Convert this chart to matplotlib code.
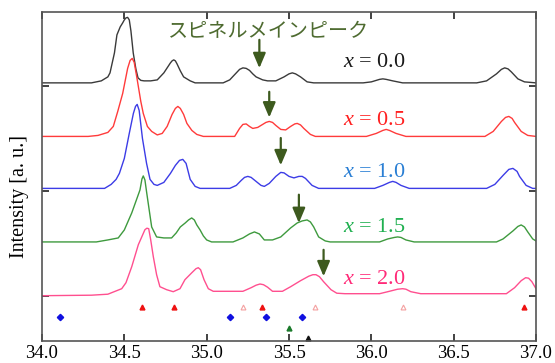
import matplotlib
matplotlib.use("Agg")
import matplotlib.pyplot as plt
import numpy as np

# ---------------- data (2theta in degrees, intensity in a.u.) ----------------
tt_x00 = [34.00, 34.30, 34.36, 34.40, 34.413, 34.44, 34.455, 34.475, 34.49, 34.50, 34.51, 34.52, 34.53, 34.54,
          34.554, 34.57, 34.583, 34.60, 34.62,
          34.66, 34.70, 34.74, 34.76, 34.78, 34.79, 34.80, 34.81, 34.82, 34.84, 34.86, 34.90, 34.93, 35.10, 35.14,
          35.18, 35.20, 35.22, 35.24, 35.26, 35.28, 35.30,
          35.34, 35.37, 35.42, 35.47, 35.50, 35.52, 35.54, 35.57, 35.61, 35.65, 35.95, 36.00, 36.05, 36.07, 36.09,
          36.13, 36.19, 36.64, 36.70,
          36.76, 36.79, 36.81, 36.83, 36.85, 36.89, 36.93, 37.00]
I_x00 = [0, 0, 2, 6, 10, 30, 48, 56, 60, 63, 65, 65.5, 63, 52,
         30, 14, 5, 2.5, 2,
         2, 3, 10, 15, 20, 22, 23, 22, 19, 12, 6, 2, 0, 0, 3,
         10, 13.5, 15, 14.5, 12.5, 9, 6,
         3, 2, 2, 6, 9, 10, 9, 6, 1, 0, 0, 1, 3.5, 4, 3.5,
         2, 0, 0, 2,
         9, 13.5, 15, 14, 11, 4, 1, 0]

tt_x05 = [34.00, 34.28, 34.34, 34.40, 34.433, 34.46, 34.49, 34.52, 34.535, 34.548, 34.56, 34.579, 34.60, 34.615,
          34.64, 34.666, 34.70, 34.73, 34.76, 34.79, 34.81, 34.825, 34.84, 34.86, 34.88, 34.91, 34.94, 34.98,
          35.17, 35.20, 35.22, 35.24, 35.26, 35.28, 35.31, 35.34, 35.36, 35.38, 35.40, 35.42, 35.45, 35.48, 35.51,
          35.535, 35.55, 35.57, 35.59, 35.63, 35.66, 35.97, 36.03, 36.07, 36.09, 36.11, 36.15,
          36.21, 36.69, 36.74, 36.79, 36.815, 36.835, 36.855, 36.87, 36.91, 36.95, 37.00]
I_x05 = [0, 0, 1, 4, 10, 25, 43, 68, 76, 78, 74, 56, 35, 23,
         10, 5, 1.5, 3, 10, 22, 28, 30, 28, 22, 13, 6, 2, 0,
         0, 8, 12, 12.5, 10, 8, 9, 12, 14, 15, 14, 11, 7, 6.5, 10,
         12.5, 13, 11.5, 8, 2, 0, 0, 3, 6, 7, 6, 3,
         0, 0, 5, 15, 19, 20, 18, 14, 5, 1, 0]

tt_x10 = [34.00, 34.38, 34.42, 34.45, 34.47, 34.50, 34.53, 34.555, 34.568, 34.578, 34.59, 34.61, 34.635, 34.656,
          34.68, 34.70, 34.74, 34.78, 34.81, 34.835, 34.855, 34.875, 34.90, 34.93, 34.96, 35.14, 35.18, 35.21,
          35.23, 35.25, 35.27, 35.30, 35.33, 35.35, 35.38, 35.42, 35.45, 35.47, 35.50, 35.53, 35.56, 35.58,
          35.60, 35.64, 35.68, 36.02, 36.07, 36.11, 36.13, 36.15, 36.18, 36.23, 36.70, 36.75, 36.80, 36.835,
          36.86, 36.885, 36.90, 36.94, 36.98, 37.00]
I_x10 = [0, 0, 4, 9, 15, 30, 55, 75, 82, 84, 78, 50, 25, 9,
         4, 3, 6, 15, 23, 28, 29, 25, 9, 2, 0, 0, 3, 8,
         11, 12, 11, 7, 3, 2, 5, 12, 16, 15.5, 12, 10.5, 12, 12,
         10, 3, 0, 0, 3, 6, 7, 6, 3, 0, 0, 4, 13, 19,
         20, 17, 12, 3, 0, 0]

tt_x15 = [34.00, 34.33, 34.40, 34.463, 34.50, 34.545, 34.595, 34.607, 34.615, 34.625, 34.636, 34.666, 34.696,
          34.74, 34.787, 34.815, 34.84, 34.87, 34.89, 34.909, 34.925, 34.94, 34.96, 34.98, 35.00, 35.03, 35.16,
          35.22, 35.26, 35.29, 35.32, 35.35, 35.40, 35.45, 35.51, 35.55, 35.58, 35.61, 35.63, 35.65, 35.68,
          35.72, 35.75, 36.05, 36.10, 36.14, 36.16, 36.18, 36.21, 36.26, 36.76, 36.80, 36.86, 36.89, 36.91,
          36.93, 36.95, 36.98, 37.00]
I_x15 = [0, 0, 2, 4, 12, 29, 52, 63, 66, 62, 49, 15, 5,
         4, 4, 9, 15, 19, 22, 24, 22, 17, 12, 6, 2, 0, 0,
         4, 8, 10, 8, 2, 2, 5, 14, 19, 21, 22, 20, 15, 5,
         1, 0, 0, 3, 4.5, 5, 4.5, 2, 0, 0, 3, 11, 15.5, 17,
         15, 10, 3, 1]

tt_x20 = [34.00, 34.30, 34.40, 34.484, 34.51, 34.545, 34.585, 34.625, 34.637, 34.648, 34.66, 34.676, 34.696,
          34.716, 34.757, 34.797, 34.838, 34.868, 34.91, 34.935, 34.949, 34.963, 34.984, 35.01, 35.04, 35.22,
          35.27, 35.30, 35.324, 35.345, 35.37, 35.40, 35.46, 35.51, 35.57, 35.62, 35.645, 35.664, 35.685, 35.71,
          35.755, 35.79, 35.84, 36.05, 36.10, 36.16, 36.19, 36.21, 36.24, 36.30, 36.82, 36.87, 36.91, 36.937,
          36.955, 36.975, 37.00]
I_x20 = [-1, -0.5, 0.5, 6, 12, 28, 50, 65, 66.5, 66, 55, 38, 20,
         8, 5, 3, 6, 15, 22, 26, 27, 25, 15, 6, 3.4, 3.4,
         7, 9.5, 10.7, 10, 7.5, 3.4, 3.4, 8, 14, 18.5, 20, 20, 18, 13,
         5, 1.5, 1, 1, 3, 5.5, 6, 5.5, 3, 1, 1, 7, 14, 17,
         16.5, 13, 6]

series_tt = [tt_x00, tt_x05, tt_x10, tt_x15, tt_x20]
series_I = [I_x00, I_x05, I_x10, I_x15, I_x20]
labels = ["0.0", "0.5", "1.0", "1.5", "2.0"]
offsets = [4.06, 3.04, 2.05, 1.03, 0.025]
line_colors = ["#3a3a3a", "#ff3b3b", "#3c3ce6", "#3e9a3e", "#ff4f8f"]
text_colors = ["#1a1a1a", "#ff2020", "#2a7fd4", "#20b050", "#ff2a78"]
label_y = [4.44, 3.35, 2.36, 1.30, 0.305]

# spinel main peak arrows: 2theta, start, tip
arrow_tt = [35.32, 35.38, 35.45, 35.56, 35.71]
arrow_top = [4.88, 3.89, 3.01, 1.93, 0.88]
arrow_tip = [4.34, 3.40, 2.49, 1.39, 0.375]

# reference markers
red_tri = [34.605, 34.80, 35.334, 36.93]
pink_open_tri = [35.22, 35.66, 36.195]
blue_dia = [34.11, 35.14, 35.36, 35.58]
green_tri = [35.50]
black_tri = [35.613]

int_scale = 52.5  # a.u. per offset step

# ---------------- plot ----------------
plt.rcParams['font.family'] = ['Liberation Serif', 'DejaVu Serif']
plt.rcParams['mathtext.fontset'] = 'custom'
plt.rcParams['mathtext.it'] = 'Liberation Serif:italic'
plt.rcParams['mathtext.rm'] = 'Liberation Serif'

fig = plt.figure(figsize=(5.55, 3.63), dpi=100)
ax = fig.add_axes([42/555, 1 - 341/363, (536 - 42)/555, (341 - 12)/363])

for tt, I, off, c in zip(series_tt, series_I, offsets, line_colors):
    ax.plot(tt, off + np.asarray(I) / int_scale, color=c, lw=1.0, solid_joinstyle='round')

for lab, y, c in zip(labels, label_y, text_colors):
    ax.text(35.83, y, r"$x$ = " + lab, color=c, fontsize=16, va='center', ha='left')

arrow_color = "#3d5a1e"
for t, y0, y1 in zip(arrow_tt, arrow_top, arrow_tip):
    ax.annotate('', xy=(t, y1), xytext=(t, y0),
                arrowprops=dict(arrowstyle='-|>,head_width=0.38,head_length=0.9', color=arrow_color,
                                lw=1.6, mutation_scale=10, shrinkA=0, shrinkB=0))

ax.text(35.375, 5.03, "スピネルメインピーク", color="#4e6b30", fontsize=14.5, ha='center', va='center',
        family=['Noto Sans CJK JP', 'DejaVu Sans'])

ms = 3.5
ax.plot(red_tri, [-0.204] * len(red_tri), ls='none', marker='^', ms=ms, color='#ee1111')
ax.plot(pink_open_tri, [-0.204] * len(pink_open_tri), ls='none', marker='^', ms=ms, mfc='none',
        mec='#f4a0a0', mew=0.8)
ax.plot(blue_dia, [-0.394] * len(blue_dia), ls='none', marker='D', ms=3.2, color='#1010e0')
ax.plot(green_tri, [-0.604] * len(green_tri), ls='none', marker='^', ms=ms, color='#1a7a2a')
ax.plot(black_tri, [-0.806] * len(black_tri), ls='none', marker='^', ms=ms, color='#111111')

ax.set_xlim(34.0, 37.0)
ax.set_ylim(-0.857, 5.41)
ax.set_xticks([34.0, 34.5, 35.0, 35.5, 36.0, 36.5, 37.0])
ax.set_xticklabels(["34.0", "34.5", "35.0", "35.5", "36.0", "36.5", "37.0"])
ax.set_yticks([0, 2, 4])
ax.set_yticklabels([])
ax.tick_params(axis='both', direction='in', length=5, width=1.2, color='#222222',
               top=True, right=True, labelsize=13.5, pad=3)
for s in ax.spines.values():
    s.set_color('#555555')
    s.set_linewidth(1.2)
ax.set_ylabel("Intensity [a. u.]", fontsize=14.5)
ax.yaxis.set_label_coords(-0.026, 0.44)

fig.savefig("out.png", dpi=100)
